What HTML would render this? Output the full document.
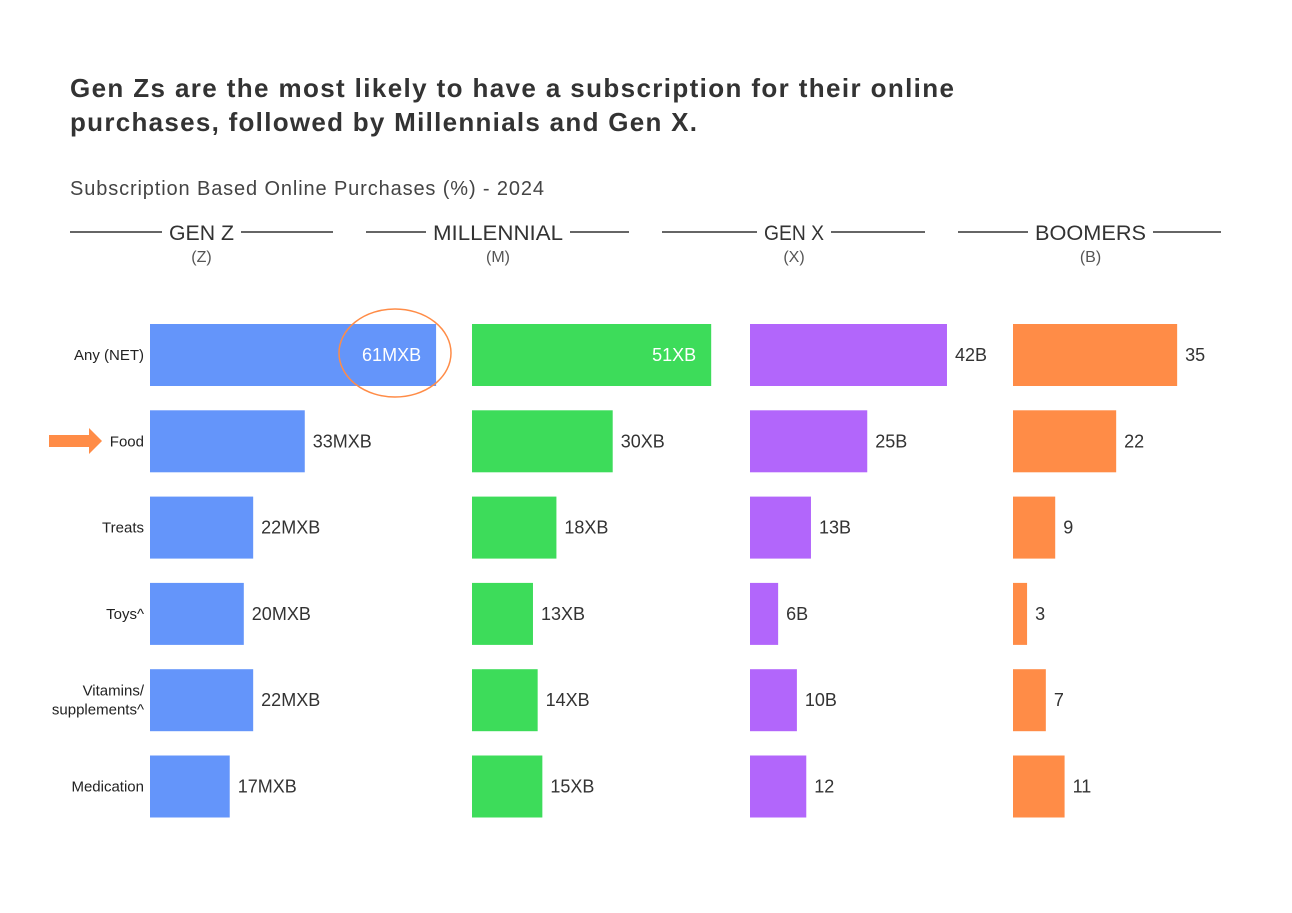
<!DOCTYPE html>
<html><head><meta charset="utf-8"><style>
body{margin:0;background:#fff;}
svg{display:block;font-family:"Liberation Sans",sans-serif;}
</style></head><body>
<svg id="c" width="1292" height="913" viewBox="0 0 1292 913">
<text x="70" y="97" font-size="26" font-weight="bold" fill="#333" textLength="884" lengthAdjust="spacing">Gen Zs are the most likely to have a subscription for their online</text>
<text x="70" y="131" font-size="26" font-weight="bold" fill="#333" textLength="627" lengthAdjust="spacing">purchases, followed by Millennials and Gen X.</text>
<text x="70" y="195" font-size="20" fill="#444" textLength="474" lengthAdjust="spacing">Subscription Based Online Purchases (%) - 2024</text>
<g id="g"></g>
</svg>
<script>
const categories=["Any (NET)","Food","Treats","Toys^","Vitamins/\nsupplements^","Medication"];
const groups=["GEN Z","MILLENNIAL","GEN X","BOOMERS"];
const groupCodes=["(Z)","(M)","(X)","(B)"];
const colors=["#6495fa","#3ddc5a","#b266fb","#ff8c47"];
const genZ=[61,33,22,20,22,17];
const millennial=[51,30,18,13,14,15];
const genX=[42,25,13,6,10,12];
const boomers=[35,22,9,3,7,11];
const suffixes=[["MXB","MXB","MXB","MXB","MXB","MXB"],["XB","XB","XB","XB","XB","XB"],["B","B","B","B","B",""],["","","","","",""]];
const series=[genZ,millennial,genX,boomers];
const NS="http://www.w3.org/2000/svg";
const g=document.getElementById('g');
function el(t,a,txt){const e=document.createElementNS(NS,t);for(const k in a)e.setAttribute(k,a[k]);if(txt!==undefined)e.textContent=txt;g.appendChild(e);return e;}
const scale=4.69;
const barStarts=[150,472,750,1013];
const rowY=i=>324+i*86.3;
const barH=62;
const x=(gi,v)=>barStarts[gi]+v*scale;
const headerGaps=[[162,241],[426,570],[757,831],[1028,1153]];
groups.forEach((name,gi)=>{
  const px=70+gi*296;
  const l1=el('line',{x1:px,x2:headerGaps[gi][0],y1:232,y2:232,stroke:'#333','stroke-width':1.5});
  
  
  const l2=el('line',{x1:headerGaps[gi][1],x2:px+263,y1:232,y2:232,stroke:'#333','stroke-width':1.5});
  
  
  const cx=(headerGaps[gi][0]+headerGaps[gi][1])/2;
  const t=el('text',{x:cx,y:240,'text-anchor':'middle','font-size':21,fill:'#333',textLength:headerGaps[gi][1]-headerGaps[gi][0]-14,lengthAdjust:'spacingAndGlyphs'},name);
  
  
  const c=el('text',{x:cx,y:262,'text-anchor':'middle','font-size':16,fill:'#555'},groupCodes[gi]);
  
  
  series[gi].forEach((v,i)=>{
    const r=el('rect',{x:barStarts[gi],y:rowY(i),width:v*scale,height:barH,fill:colors[gi]});
    
    
    const inside=(i===0&&gi<2);
    const lbl=el('text',{x:inside?x(gi,v)-15:x(gi,v)+8,y:rowY(i)+37,'text-anchor':inside?'end':'start','font-size':18,fill:inside?'#fff':'#333'},v+suffixes[gi][i]);
    
    
  });
});
categories.forEach((c,i)=>{
  const parts=c.split('\n');
  parts.forEach((p,j)=>{
    const t=el('text',{x:144,y:rowY(i)+36+(j-(parts.length-1)/2)*19,'text-anchor':'end','font-size':15,fill:'#222'},p);
    
    
  });
});
const circ=el('ellipse',{cx:395,cy:353,rx:56,ry:44,fill:'none',stroke:'#ff8c47','stroke-width':1.5});


const arr=el('polygon',{points:'49,435 89,435 89,428 102,441 89,454 89,447 49,447',fill:'#ff8c47'});


</script>
</body></html>
